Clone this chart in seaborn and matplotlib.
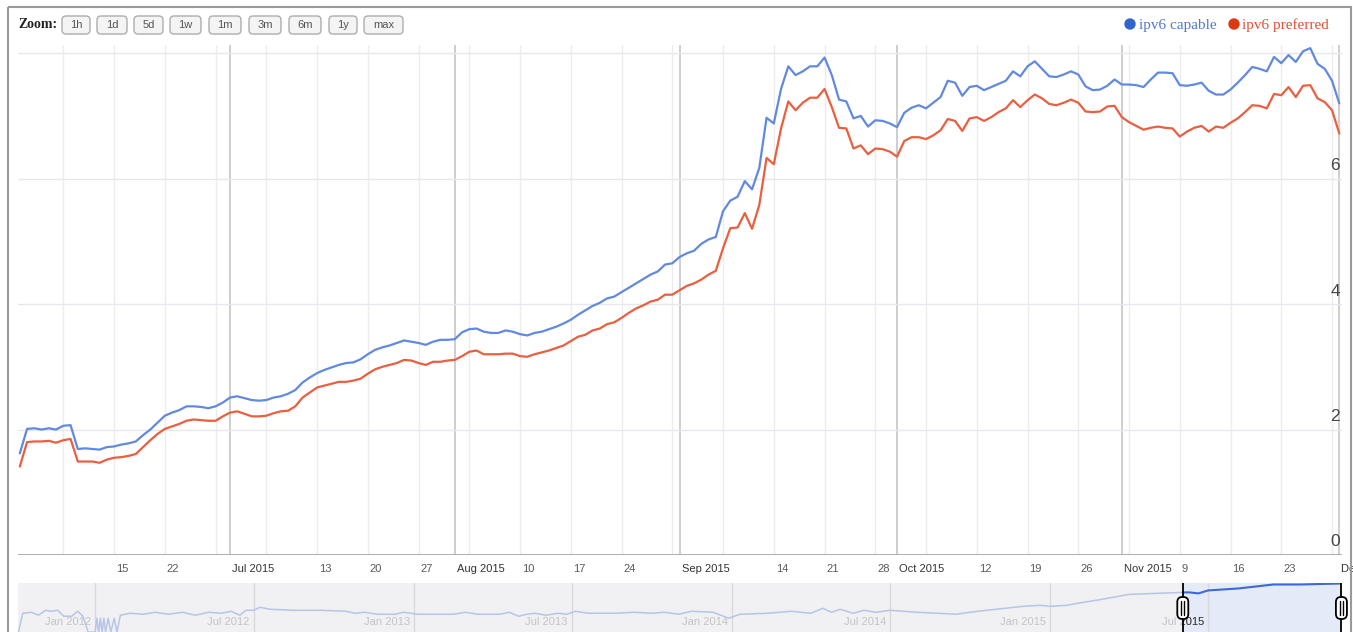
import matplotlib
matplotlib.use('Agg')
import matplotlib.pyplot as plt
import matplotlib.dates as mdates
import matplotlib.transforms as mtransforms
from matplotlib.patches import FancyBboxPatch, Rectangle, Circle
import pandas as pd
import seaborn as sns

# daily values, 2 Jun 2015 .. 1 Dec 2015 (percent)
start_date = '2015-06-02'
capable = [
    1.62, 2.01, 2.02, 2.00, 2.02, 2.00, 2.06, 2.07, 1.69, 1.70,
    1.69, 1.68, 1.72, 1.73, 1.76, 1.78, 1.81, 1.91, 2.00, 2.11,
    2.22, 2.27, 2.31, 2.37, 2.37, 2.36, 2.34, 2.37, 2.43, 2.51,
    2.53, 2.50, 2.47, 2.46, 2.47, 2.51, 2.53, 2.57, 2.63, 2.75,
    2.83, 2.90, 2.95, 2.99, 3.03, 3.06, 3.07, 3.12, 3.20, 3.27,
    3.31, 3.34, 3.38, 3.42, 3.40, 3.38, 3.35, 3.40, 3.43, 3.43,
    3.44, 3.55, 3.60, 3.61, 3.56, 3.54, 3.54, 3.58, 3.56, 3.52,
    3.50, 3.54, 3.56, 3.60, 3.64, 3.69, 3.75, 3.83, 3.90, 3.97,
    4.02, 4.09, 4.12, 4.19, 4.26, 4.33, 4.40, 4.47, 4.52, 4.63,
    4.65, 4.75, 4.81, 4.85, 4.96, 5.03, 5.07, 5.48, 5.65, 5.71,
    5.96, 5.83, 6.17, 6.97, 6.88, 7.43, 7.79, 7.65, 7.71, 7.79,
    7.79, 7.93, 7.65, 7.26, 7.23, 6.96, 7.00, 6.83, 6.93, 6.92,
    6.88, 6.82, 7.05, 7.13, 7.17, 7.12, 7.21, 7.30, 7.56, 7.53,
    7.32, 7.46, 7.48, 7.41, 7.46, 7.51, 7.56, 7.71, 7.63, 7.79,
    7.87, 7.75, 7.63, 7.62, 7.66, 7.71, 7.66, 7.47, 7.41, 7.42,
    7.48, 7.58, 7.50, 7.50, 7.49, 7.46, 7.58, 7.69, 7.69, 7.68,
    7.49, 7.48, 7.50, 7.53, 7.40, 7.34, 7.34, 7.42, 7.53, 7.65,
    7.78, 7.75, 7.71, 7.94, 7.84, 7.97, 7.86, 8.03, 8.08, 7.83,
    7.75, 7.56, 7.20,
]
preferred = [
    1.41, 1.80, 1.81, 1.81, 1.82, 1.79, 1.83, 1.85, 1.49, 1.49,
    1.49, 1.47, 1.52, 1.55, 1.56, 1.58, 1.61, 1.72, 1.83, 1.93,
    2.01, 2.05, 2.09, 2.14, 2.16, 2.15, 2.14, 2.14, 2.21, 2.27,
    2.29, 2.25, 2.21, 2.21, 2.22, 2.26, 2.29, 2.30, 2.37, 2.51,
    2.59, 2.67, 2.70, 2.73, 2.76, 2.76, 2.78, 2.81, 2.89, 2.96,
    3.00, 3.03, 3.06, 3.11, 3.10, 3.06, 3.03, 3.08, 3.08, 3.10,
    3.11, 3.17, 3.24, 3.26, 3.20, 3.20, 3.20, 3.21, 3.21, 3.17,
    3.16, 3.20, 3.23, 3.26, 3.30, 3.34, 3.41, 3.48, 3.51, 3.58,
    3.61, 3.68, 3.71, 3.78, 3.86, 3.93, 3.98, 4.04, 4.07, 4.15,
    4.15, 4.22, 4.29, 4.33, 4.39, 4.47, 4.53, 4.89, 5.21, 5.22,
    5.45, 5.20, 5.58, 6.33, 6.23, 6.80, 7.23, 7.09, 7.21, 7.29,
    7.29, 7.43, 7.14, 6.81, 6.80, 6.48, 6.53, 6.39, 6.48, 6.47,
    6.43, 6.35, 6.60, 6.66, 6.66, 6.63, 6.69, 6.77, 6.95, 6.92,
    6.76, 6.96, 6.98, 6.92, 6.98, 7.06, 7.12, 7.25, 7.14, 7.25,
    7.34, 7.28, 7.19, 7.17, 7.21, 7.26, 7.21, 7.07, 7.06, 7.07,
    7.15, 7.16, 6.98, 6.90, 6.84, 6.78, 6.81, 6.83, 6.81, 6.80,
    6.67, 6.75, 6.81, 6.84, 6.75, 6.83, 6.81, 6.89, 6.96, 7.06,
    7.17, 7.16, 7.12, 7.35, 7.33, 7.46, 7.30, 7.48, 7.49, 7.28,
    7.22, 7.09, 6.72,
]

tick_dates = ['2015-06-15', '2015-06-22', '2015-07-01', '2015-07-13', '2015-07-20',
              '2015-07-27', '2015-08-01', '2015-08-10', '2015-08-17', '2015-08-24',
              '2015-09-01', '2015-09-14', '2015-09-21', '2015-09-28', '2015-10-01',
              '2015-10-12', '2015-10-19', '2015-10-26', '2015-11-01', '2015-11-09',
              '2015-11-16', '2015-11-23', '2015-12-01']
tick_labels = ['15', '22', 'Jul 2015', '13', '20', '27', 'Aug 2015', '10', '17', '24',
               'Sep 2015', '14', '21', '28', 'Oct 2015', '12', '19', '26', 'Nov 2015',
               '9', '16', '23', 'Dec 2015']
month_starts = ['2015-07-01', '2015-08-01', '2015-09-01', '2015-10-01', '2015-11-01', '2015-12-01']
y_ticks = [0, 2, 4, 6]

# overview strip (level of the faint line inside the navigator)
mini_dates = ['2011-10-05', '2011-10-10', '2011-10-20', '2011-10-28', '2011-11-05', '2011-11-12',
              '2011-11-19', '2011-11-26', '2011-12-05', '2011-12-12', '2011-12-18', '2011-12-24',
              '2012-01-01', '2012-01-03', '2012-01-05', '2012-01-07', '2012-01-09', '2012-01-11',
              '2012-01-13', '2012-01-16', '2012-01-19', '2012-01-23', '2012-01-26', '2012-01-30',
              '2012-02-10', '2012-02-25', '2012-03-10', '2012-03-25', '2012-04-10', '2012-04-25',
              '2012-05-10', '2012-05-25', '2012-06-05', '2012-06-15', '2012-06-22', '2012-07-01',
              '2012-07-08', '2012-07-20', '2012-08-15', '2012-09-15', '2012-10-15', '2012-10-25',
              '2012-11-05', '2012-11-20', '2012-12-10', '2012-12-20', '2013-01-05', '2013-02-15',
              '2013-03-01', '2013-03-15', '2013-04-10', '2013-04-20', '2013-05-01', '2013-05-10',
              '2013-05-20', '2013-06-01', '2013-06-15', '2013-06-25', '2013-07-05', '2013-07-20',
              '2013-08-20', '2013-09-10', '2013-10-01', '2013-10-15', '2013-11-01', '2013-11-15',
              '2013-12-10', '2013-12-28', '2014-01-10', '2014-02-10', '2014-03-10', '2014-04-01',
              '2014-04-15', '2014-04-25', '2014-05-05', '2014-05-20', '2014-06-01', '2014-06-15',
              '2014-07-01', '2014-08-01', '2014-08-25', '2014-09-15', '2014-10-01', '2014-10-20',
              '2014-11-10', '2014-12-01', '2014-12-20', '2015-01-01', '2015-01-20', '2015-02-01',
              '2015-03-01', '2015-04-01', '2015-05-01', '2015-06-02', '2015-06-10', '2015-06-20',
              '2015-07-01', '2015-08-05', '2015-09-14', '2015-10-15', '2015-12-01']
mini_levels = [0, 19, 20, 17, 22, 21,
               22, 16, 16, 21, 16, 0,
               0, 14, 0, 14, 0, 14,
               0, 14, 0, 14, 0, 17,
               19, 18, 20, 18, 20, 17,
               20, 19, 21, 17, 22, 22,
               25, 23, 22, 22, 21, 19,
               20, 18, 18, 20, 18, 18,
               20, 18, 18, 20, 16, 18,
               19, 17, 19, 18, 21, 19,
               19, 20, 19, 20, 18, 21,
               20, 14, 18, 19, 21, 19,
               24, 20, 23, 19, 22, 20,
               22, 20, 19, 18, 20, 22,
               24, 26, 27, 26, 27, 29,
               33, 38, 39, 40, 40, 39,
               42, 44, 48, 48, 49]
mini_tick_dates = ['2012-01-01', '2012-07-01', '2013-01-01', '2013-07-01',
                   '2014-01-01', '2014-07-01', '2015-01-01', '2015-07-01']
mini_tick_labels = ['Jan 2012', 'Jul 2012', 'Jan 2013', 'Jul 2013',
                    'Jan 2014', 'Jul 2014', 'Jan 2015', 'Jul 2015']

zoom_buttons = ['1h', '1d', '5d', '1w', '1m', '3m', '6m', '1y', 'max']
button_spans = [(62, 90), (97, 127), (134, 163), (170, 201), (209, 241),
                (249, 281), (289, 321), (329, 357), (364, 403)]

sns.set_style('white')
small = ['Liberation Sans', 'DejaVu Sans']
serif = ['Liberation Serif', 'DejaVu Serif']
plt.rcParams['font.family'] = small

blue_line = '#6289e0'
red_line = '#e95f3f'

W, H = 1353, 632
fig = plt.figure(figsize=(W / 100, H / 100), dpi=100)
ax = fig.add_axes([18 / W, (H - 555) / H, 1324 / W, 510 / H])
mini = fig.add_axes([18 / W, (H - 645) / H, 1324 / W, 62 / H])
deco = fig.add_axes([0, 0, 1, 1], zorder=5)
deco.set_xlim(0, W)
deco.set_ylim(H, 0)
deco.axis('off')
deco.patch.set_alpha(0)

df = pd.DataFrame({
    'date': pd.date_range(start_date, periods=len(capable), freq='D'),
    'ipv6 capable': capable,
    'ipv6 preferred': preferred,
})
first, last = df['date'].iloc[0], df['date'].iloc[-1]

# grid
for d in pd.date_range('2015-06-08', last, freq='7D'):
    ax.axvline(d, color='#ececec', lw=1, zorder=0)
for d in month_starts:
    ax.axvline(pd.Timestamp(d), color='#c6c6c6', lw=1.2, zorder=0)
for v in [2, 4, 6, 8]:
    ax.axhline(v, color='#e7e7ef', lw=1, zorder=0)
ax.axhline(0, color='#a9a9a9', lw=1.3, zorder=1)

sns.lineplot(data=df, x='date', y='ipv6 capable', color=blue_line, lw=1.6, ax=ax)
sns.lineplot(data=df, x='date', y='ipv6 preferred', color=red_line, lw=1.6, ax=ax)

ax.set_xlim(first - pd.Timedelta(hours=6), last + pd.Timedelta(hours=9))
ax.set_ylim(0, 8.13)
ax.set_xlabel('')
ax.set_ylabel('')
ax.set_xticks([])
ax.set_yticks([])
for s in ax.spines.values():
    s.set_visible(False)

xlab_tr = mtransforms.blended_transform_factory(ax.transData, ax.transAxes) + \
    mtransforms.ScaledTranslation(0.02, -0.14, fig.dpi_scale_trans)
for d, lab in zip(tick_dates, tick_labels):
    is_month = not lab.isdigit()
    ax.text(mdates.date2num(pd.Timestamp(d)), 0, lab, transform=xlab_tr,
            ha='left', va='center', fontsize=8, family=small,
            color='#333333' if is_month else '#5a5a5a', clip_on=False)

ylab_tr = mtransforms.blended_transform_factory(ax.transAxes, ax.transData) + \
    mtransforms.ScaledTranslation(-0.02, 0.13, fig.dpi_scale_trans)
for v in y_ticks:
    ax.text(1, v, str(v), transform=ylab_tr, ha='right', va='center',
            fontsize=12.5, color='#454545', clip_on=False)

# navigator strip
mini_df = pd.DataFrame({'date': pd.to_datetime(mini_dates), 'level': mini_levels})
mini.set_facecolor('#f1f1f3')
span = mini.axvspan(first, last, color='#e4eaf8', lw=0, zorder=0)
for d in mini_tick_dates:
    mini.axvline(pd.Timestamp(d), color='#d9d9dd', lw=1, zorder=0.5)
old = mini_df[mini_df['date'] <= first]
new = mini_df[mini_df['date'] >= first]
sns.lineplot(data=old, x='date', y='level', color='#b7c5e8', lw=1.1, ax=mini)
sns.lineplot(data=new, x='date', y='level', color='#3d69d4', lw=1.5, ax=mini)
mini.set_xlim(pd.Timestamp('2011-10-04 12:00'), pd.Timestamp('2015-12-01 16:00'))
mini.set_ylim(-13, 49.5)
mini.set_xlabel('')
mini.set_ylabel('')
mini.set_xticks([])
mini.set_yticks([])
for s in mini.spines.values():
    s.set_visible(False)

mlab_tr = mini.transData + mtransforms.ScaledTranslation(-0.04, 0, fig.dpi_scale_trans)
for d, lab in zip(mini_tick_dates, mini_tick_labels):
    x = mdates.date2num(pd.Timestamp(d))
    mini.text(x, 10, lab, transform=mlab_tr, ha='right', va='center',
              fontsize=8, family=small, color='#c4c4c8', clip_on=False)
    dark = mini.text(x, 10, lab, transform=mlab_tr, ha='right', va='center',
                     fontsize=8, family=small, color='#333333')
    dark.set_clip_on(True)
    dark.set_clip_path(span)

for d in (first, last):
    mini.axvline(d, color='black', lw=1.3, zorder=3)

fig.canvas.draw()
for d in (first, last):
    px = mini.transData.transform((mdates.date2num(d), 0))[0]
    deco.add_patch(FancyBboxPatch((px - 5.5, 597), 11, 22,
                                  boxstyle='round,pad=0,rounding_size=5',
                                  fc='white', ec='black', lw=1.3))
    for dx in (-1.6, 1.6):
        deco.plot([px + dx, px + dx], [601, 615], color='black', lw=1)

# zoom bar
deco.text(18, 25, 'Zoom:', ha='left', va='center', fontsize=10,
          family=serif, weight='bold', color='#222222')
for lab, (x0, x1) in zip(zoom_buttons, button_spans):
    deco.add_patch(FancyBboxPatch((x0, 16), x1 - x0, 18,
                                  boxstyle='round,pad=0,rounding_size=4',
                                  fc='#f4f4f4', ec='#adadad', lw=1))
    deco.text((x0 + x1) / 2, 25.5, lab, ha='center', va='center', fontsize=8,
              family=small, color='#555555')

# legend
for cx, tx, lab, dot, txt in [(1130, 1139, 'ipv6 capable', '#3366cc', '#4f77da'),
                              (1234, 1242, 'ipv6 preferred', '#dc3912', '#e2502f')]:
    deco.add_patch(Circle((cx, 24), 5, color=dot))
    deco.text(tx, 25, lab, ha='left', va='center', fontsize=11,
              family=serif, color=txt)

# widget frame
deco.add_patch(Rectangle((8, 7), 1343, 640, fill=False, ec='#9a9a9a', lw=1.5))

fig.savefig('out.png', dpi=100)
